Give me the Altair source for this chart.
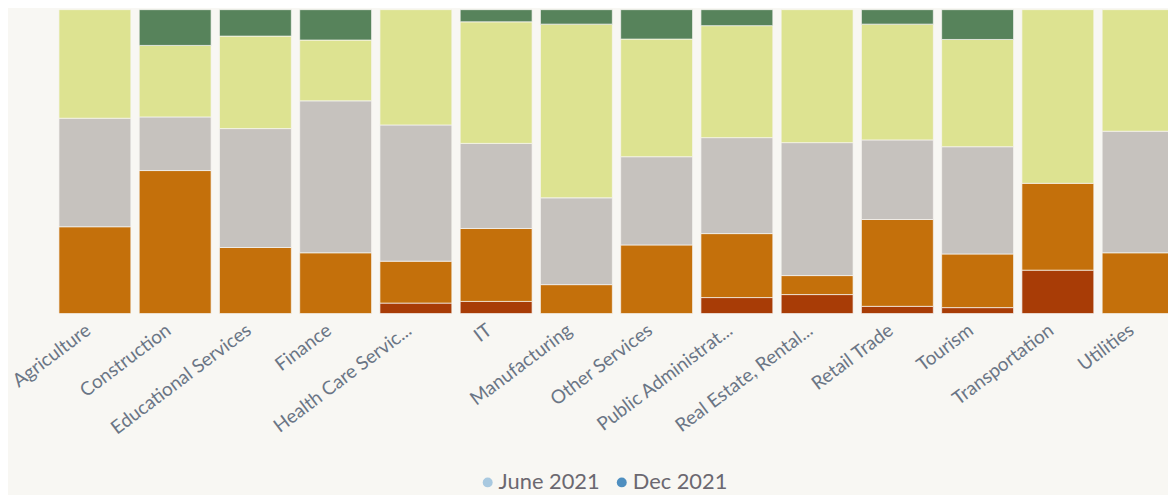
import altair as alt
import pandas as pd

categories = ["Agriculture", "Construction", "Educational Services", "Finance",
              "Health Care Servic...", "IT", "Manufacturing", "Other Services",
              "Public Administrat...", "Real Estate, Rental...", "Retail Trade",
              "Tourism", "Transportation", "Utilities"]

segments = ["Much lower", "Lower", "Same", "Higher", "Much higher"]
segment_colors = ["#a83c06", "#c4700b", "#c6c2be", "#dde391", "#57835b"]

much_lower = [0, 0, 0, 0, 1, 1, 0, 0, 1, 1, 1, 1, 1, 0]
lower = [4, 8, 5, 2, 4, 6, 2, 7, 4, 1, 12, 9, 2, 1]
same = [5, 3, 9, 5, 13, 7, 6, 9, 6, 7, 11, 18, 0, 2]
higher = [5, 4, 7, 2, 11, 10, 12, 12, 7, 7, 16, 18, 4, 2]
much_higher = [0, 2, 2, 1, 0, 1, 1, 3, 1, 0, 2, 5, 0, 0]

periods = ["June 2021", "Dec 2021"]
period_colors = ["#a9c9e0", "#4f8fc0"]

series = [much_lower, lower, same, higher, much_higher]
rows = []
for si, (seg, vals) in enumerate(zip(segments, series)):
    for cat, v in zip(categories, vals):
        if v > 0:
            rows.append({"industry": cat, "segment": seg, "idx": si, "count": v})
df = pd.DataFrame(rows)
legend_df = pd.DataFrame({"period": periods})

FONT = "Lato"

bars = alt.Chart(df).mark_bar(stroke="#f8f7f3", strokeWidth=0.7).encode(
    x=alt.X("industry:N", sort=categories,
            scale=alt.Scale(range=[4.3, 1127.1], paddingInner=0.104, paddingOuter=0),
            axis=alt.Axis(title=None, labelAngle=-37, labelAlign="right",
                          labelBaseline="top", labelOffset=-12, labelPadding=7,
                          labelFontSize=19, labelFont=FONT, labelColor="#6a7585",
                          ticks=False, domain=False, labelLimit=400)),
    y=alt.Y("count:Q", stack="normalize", axis=None),
    color=alt.Color("segment:N", scale=alt.Scale(domain=segments, range=segment_colors),
                    legend=None),
    order=alt.Order("idx:Q", sort="ascending"),
)

legend_layer = alt.Chart(legend_df).mark_point(filled=True, opacity=0).encode(
    fill=alt.Fill("period:N", sort=periods,
                  scale=alt.Scale(domain=periods, range=period_colors),
                  legend=alt.Legend(title=None, orient="none", direction="horizontal",
                                    legendX=425, legendY=465, symbolType="circle",
                                    symbolSize=100, symbolOpacity=1, symbolStrokeWidth=0,
                                    labelFontSize=22, labelFont=FONT,
                                    labelColor="#6b6870", labelOffset=0,
                                    columnPadding=11, padding=0)),
)

chart = alt.layer(bars, legend_layer).properties(
    width=1121, height=306,
    autosize=alt.AutoSizeParams(type="none"),
    padding={"left": 47, "top": 0, "right": 0, "bottom": 181},
).configure(background="#f8f7f3").configure_view(stroke=None)

chart.save("out.html", embed_options={"renderer": "svg", "actions": False})
